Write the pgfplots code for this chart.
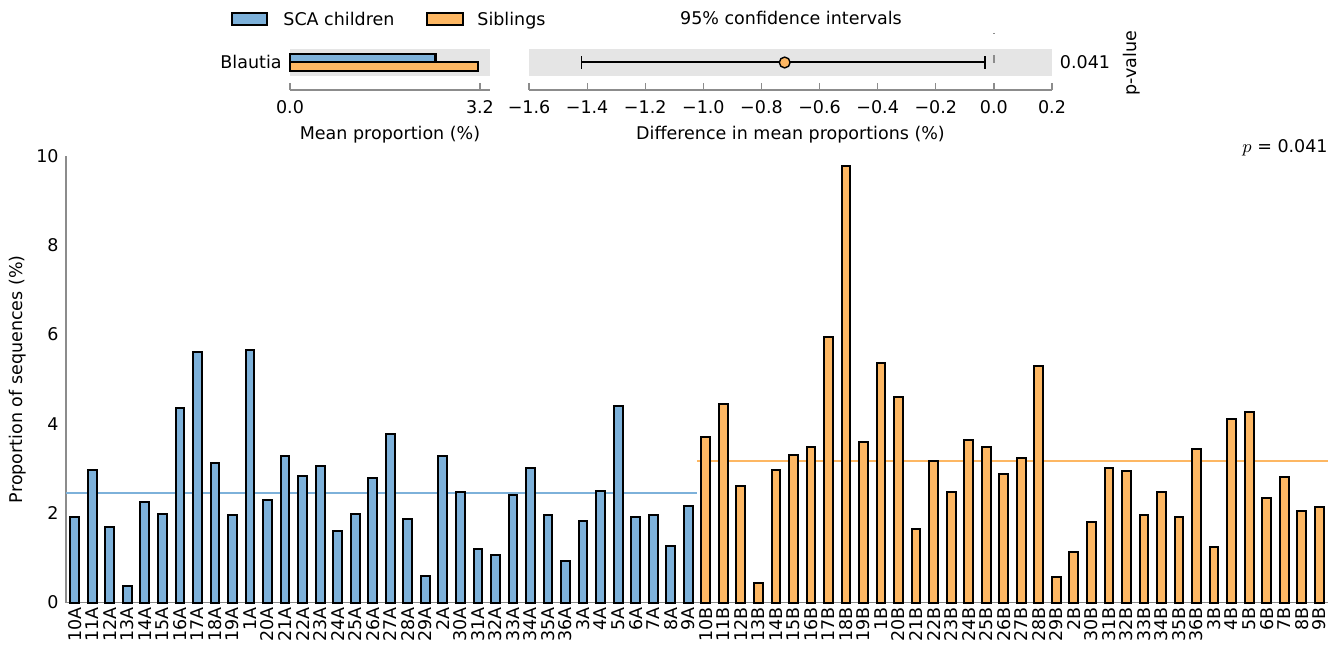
\documentclass[border=0pt]{standalone}
\usepackage{fontspec}
\setmainfont{DejaVu Sans}
\usepackage{pgfplots}
\pgfplotsset{compat=1.18}
\usepackage{pgfplotstable}

\definecolor{scablue}{RGB}{125,177,218}
\definecolor{sibor}{RGB}{253,183,99}
\definecolor{spine}{RGB}{140,140,140}
\definecolor{panel}{RGB}{229,229,229}

% proportion of Blautia sequences per subject (%)
\pgfplotstableread{
x y
0 1.91
1 2.97
2 1.69
3 0.38
4 2.24
5 1.98
6 4.35
7 5.62
8 3.13
9 1.97
10 5.65
11 2.30
12 3.27
13 2.83
14 3.06
15 1.60
16 1.98
17 2.78
18 3.78
19 1.87
20 0.60
21 3.29
22 2.48
23 1.19
24 1.07
25 2.40
26 3.01
27 1.97
28 0.94
29 1.82
30 2.49
31 4.39
32 1.92
33 1.97
34 1.26
35 2.16
}\scadata

\pgfplotstableread{
x y
36 3.71
37 4.44
38 2.60
39 0.43
40 2.96
41 3.30
42 3.49
43 5.94
44 9.77
45 3.59
46 5.37
47 4.60
48 1.64
49 3.18
50 2.48
51 3.65
52 3.48
53 2.88
54 3.24
55 5.30
56 0.56
57 1.14
58 1.81
59 3.01
60 2.94
61 1.95
62 2.48
63 1.92
64 3.43
65 1.25
66 4.11
67 4.27
68 2.33
69 2.82
70 2.06
71 2.14
}\sibdata

\begin{document}
\begin{tikzpicture}[font=\fontsize{8.75}{10.5}\selectfont]
\useasboundingbox (0,0) rectangle (671.5pt,324pt);

% legend
\draw[black, line width=1pt, fill=scablue] (116pt,311.5pt) rectangle (133.5pt,317.5pt);
\node[anchor=base west, inner sep=0pt] at (141.5pt,311.3pt) {SCA children};
\draw[black, line width=1pt, fill=sibor] (213.5pt,311.5pt) rectangle (231.5pt,317.5pt);
\node[anchor=base west, inner sep=0pt] at (238.5pt,311.3pt) {Siblings};
\node[anchor=base, inner sep=0pt] at (395.5pt,311.8pt) {95\% confidence intervals};
\node[anchor=base, inner sep=0pt] at (542.5pt,289.8pt) {0.041};
\node[rotate=90, anchor=center, inner sep=0pt] at (566pt,292.5pt) {p-value};

% mean proportions
\begin{axis}[
  at={(145pt,279pt)}, anchor=south west, scale only axis,
  width=100pt, height=20.5pt,
  xmin=0, xmax=3.37, ymin=0, ymax=41,
  axis x line*=bottom, axis y line*=left,
  y axis line style={draw=none},
  x axis line style={spine, line width=0.8pt},
  tick align=inside, major tick length=3.5pt,
  xtick style={spine, line width=0.6pt},
  ytick style={draw=none},
  xtick={0,3.2}, xticklabels={0.0,3.2},
  ytick={28}, yticklabels={Blautia},
  xticklabel style={inner sep=0pt}, xticklabel shift=5.3pt,
  yticklabel style={inner sep=0pt}, yticklabel shift=4pt,
  xlabel={Mean proportion (\%)},
  xlabel style={at={(axis description cs:0.5,-1.1)}, anchor=center},
  clip=false,
]
\fill[panel] (axis cs:0,14) rectangle (axis cs:3.37,41);
\addplot[xbar, bar width=8.5, bar shift=0pt, fill=scablue, draw=black, line width=1.1pt]
  coordinates {(2.45,32)};
\addplot[xbar, bar width=8.5, bar shift=0pt, fill=sibor, draw=black, line width=1.1pt]
  coordinates {(3.17,23.5)};
\end{axis}

% difference in mean proportions with 95% CI
\begin{axis}[
  at={(264.5pt,279pt)}, anchor=south west, scale only axis,
  width=261.5pt, height=20.5pt,
  xmin=-1.6, xmax=0.2, ymin=0, ymax=41,
  axis x line*=bottom, axis y line*=left,
  y axis line style={draw=none},
  x axis line style={spine, line width=0.8pt},
  tick align=inside, major tick length=3.5pt,
  xtick style={spine, line width=0.6pt},
  ytick=\empty,
  xtick={-1.6,-1.4,-1.2,-1.0,-0.8,-0.6,-0.4,-0.2,0,0.2},
  xticklabels={−1.6,−1.4,−1.2,−1.0,−0.8,−0.6,−0.4,−0.2,0.0,0.2},
  xticklabel style={inner sep=0pt}, xticklabel shift=5.3pt,
  xlabel={Difference in mean proportions (\%)},
  xlabel style={at={(axis description cs:0.5,-1.1)}, anchor=center},
  clip=false,
]
\fill[panel] (axis cs:-1.6,14) rectangle (axis cs:0.2,41);
\draw[spine, line width=0.8pt, dash pattern=on 0.6pt off 10.5pt on 4pt off 30pt]
  (axis cs:0,57) -- (axis cs:0,14);
\addplot[draw=none, mark=none, error bars/.cd, x dir=both, x explicit,
  error mark=|,
  error bar style={black, line width=1pt},
  error mark options={black, line width=0.8pt, mark size=3.2pt}]
  coordinates {(-0.72,27.5) += (0.69,0) -= (0.70,0)};
\addplot[only marks, mark=*, mark size=2.7pt,
  mark options={fill=sibor, draw=black, line width=0.7pt}]
  coordinates {(-0.72,27.5)};
\end{axis}

% per-subject proportions
\begin{axis}[
  at={(33pt,22.75pt)}, anchor=south west, scale only axis,
  width=631pt, height=223.25pt,
  xmin=-0.5, xmax=71.5, ymin=0, ymax=10,
  axis x line*=bottom, axis y line*=left,
  axis line style={spine, line width=0.8pt},
  tick style={draw=none},
  ytick={0,2,4,6,8,10},
  xtick={0,...,71},
  xticklabels={10A,11A,12A,13A,14A,15A,16A,17A,18A,19A,1A,20A,21A,22A,23A,24A,25A,26A,27A,28A,29A,2A,30A,31A,32A,33A,34A,35A,36A,3A,4A,5A,6A,7A,8A,9A,
               10B,11B,12B,13B,14B,15B,16B,17B,18B,19B,1B,20B,21B,22B,23B,24B,25B,26B,27B,28B,29B,2B,30B,31B,32B,33B,34B,35B,36B,3B,4B,5B,6B,7B,8B,9B},
  xticklabel style={rotate=90, anchor=east, inner sep=0pt},
  xticklabel shift=2.25pt,
  yticklabel style={inner sep=0pt}, yticklabel shift=3.5pt,
  /pgf/number format/assume math mode=true,
  ylabel={Proportion of sequences (\%)},
  ylabel style={at={(axis description cs:-0.038,0.5)}, anchor=center},
  clip=false,
]
% group means
\addplot[scablue, line width=1pt, mark=none] coordinates {(-0.5,2.45) (35.5,2.45)};
\addplot[sibor, line width=1pt, mark=none] coordinates {(35.5,3.17) (71.5,3.17)};
\addplot[ybar, bar width=0.5, bar shift=0pt, fill=scablue, draw=black, line width=1pt]
  table[x=x, y=y] {\scadata};
\addplot[ybar, bar width=0.5, bar shift=0pt, fill=sibor, draw=black, line width=1pt]
  table[x=x, y=y] {\sibdata};
\node[anchor=base east, inner sep=0pt] at (axis description cs:1,1) [yshift=1.5pt] {$p$ = 0.041};
\end{axis}
\end{tikzpicture}
\end{document}
